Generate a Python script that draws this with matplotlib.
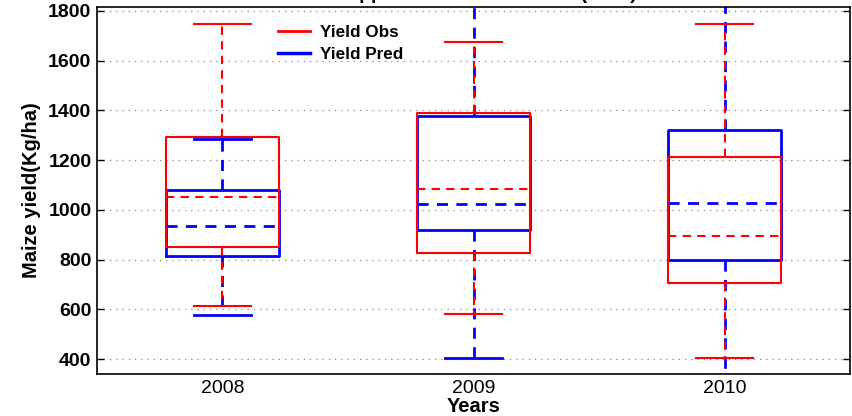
import matplotlib
matplotlib.use("Agg")
import matplotlib.pyplot as plt
from matplotlib.lines import Line2D

plt.rcParams['font.family'] = ['Liberation Sans', 'DejaVu Sans']

years = ["2008", "2009", "2010"]

# Observed yield summary (Kg/ha): lower whisker, Q1, median, Q3, upper whisker
obs_low = [613, 580, 405]
obs_q1 = [850, 828, 706]
obs_med = [1053, 1082, 896]
obs_q3 = [1293, 1390, 1214]
obs_high = [1748, 1673, 1748]

# Predicted yield summary (Kg/ha)
pred_low = [578, 403, 300]
pred_q1 = [814, 920, 798]
pred_med = [936, 1023, 1029]
pred_q3 = [1081, 1376, 1321]
pred_high = [1284, 1900, 1900]


def make_stats(low, q1, med, q3, high):
    return [dict(whislo=a, q1=b, med=c, q3=d, whishi=e, fliers=[])
            for a, b, c, d, e in zip(low, q1, med, q3, high)]


fig = plt.figure(figsize=(8.52, 4.16), dpi=100)
ax = fig.add_axes([0.1138, 0.101, 0.884, 0.882])

positions = [1, 2, 3]


def draw(stats, color, lw):
    ax.bxp(stats, positions=positions, widths=0.45, showfliers=False,
           boxprops=dict(color=color, linewidth=lw),
           whiskerprops=dict(color=color, linewidth=lw, linestyle=(0, (4, 3))),
           capprops=dict(color=color, linewidth=lw),
           medianprops=dict(color=color, linewidth=lw, linestyle=(0, (4, 3))),
           capwidths=0.225, manage_ticks=False)


draw(make_stats(pred_low, pred_q1, pred_med, pred_q3, pred_high), '#0000ff', 2.0)
draw(make_stats(obs_low, obs_q1, obs_med, obs_q3, obs_high), '#ff0000', 1.5)

ax.set_xlim(0.5, 3.5)
ax.set_ylim(340, 1815)
ax.set_xticks(positions)
ax.set_xticklabels(years, fontsize=14)
ax.set_yticks(range(400, 1801, 200))
ax.set_yticklabels([str(v) for v in range(400, 1801, 200)], fontsize=14,
                   fontweight='bold')
ax.tick_params(axis='x', length=0, pad=4)
ax.tick_params(axis='y', direction='in', length=5, left=True, right=True,
               width=1.0, pad=4)
ax.grid(axis='y', linestyle=(0, (1, 4)), color='#888888', linewidth=0.9)
for s in ax.spines.values():
    s.set_linewidth(1.2)

ax.set_xlabel("Years", fontsize=14.5, fontweight='bold', labelpad=0)
ax.set_ylabel("Maize yield(Kg/ha)", fontsize=14.5, fontweight='bold', labelpad=5)

handles = [Line2D([], [], color='#ff0000', linewidth=2),
           Line2D([], [], color='#0000ff', linewidth=2.5)]
ax.legend(handles, ["Yield Obs", "Yield Pred"], loc='upper left',
          bbox_to_anchor=(0.240, 0.952), frameon=False,
          prop=dict(size=12.3, weight='bold'), handlelength=1.9,
          handletextpad=0.6, labelspacing=0.42, borderaxespad=0.0,
          borderpad=0.0)

fig.text(637 / 852, 1.002, "Applied model validation (2010)", ha='right',
         va='baseline', fontsize=14, fontweight='bold')

fig.savefig("out.png", dpi=100)
